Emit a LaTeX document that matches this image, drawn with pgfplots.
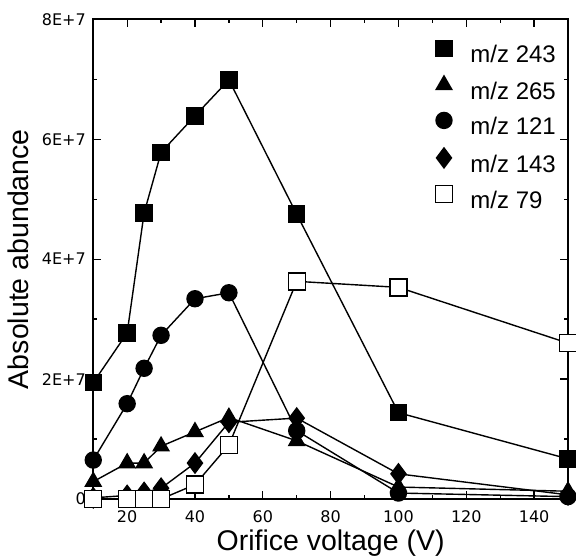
\documentclass[border=0pt]{standalone}
\usepackage{fontspec}
\setmainfont{Liberation Sans}
\newfontfamily\tickfont{DejaVu Sans}
\usepackage{pgfplots}
\pgfplotsset{compat=1.18}
\usepackage{pgfplotstable}

\pgfplotstableread{
x    a     b     c     d     e
10   1.94  0.29  0.65  0.02  0.00
20   2.77  0.60  1.59  0.06  0.00
25   4.77  0.60  2.18  0.11  0.00
30   5.78  0.88  2.73  0.18  0.00
40   6.39  1.12  3.34  0.60  0.24
50   6.99  1.36  3.44  1.28  0.90
70   4.75  0.97  1.14  1.35  3.63
100  1.44  0.20  0.10  0.42  3.53
150  0.67  0.13  0.04  0.07  2.60
}\data

\begin{document}
\begin{tikzpicture}
\begin{axis}[
    name=ax,
    scale only axis,
    width=475pt, height=480pt,
    xmin=10, xmax=150,
    ymin=0, ymax=8,
    xtick={20,40,...,140},
    ytick={0,2,4,6,8},
    yticklabels={0,2E+7,4E+7,6E+7,8E+7},
    minor x tick num=1,
    minor y tick num=1,
    major tick length=8pt,
    minor tick length=4pt,
    tick style={line width=1.3pt, black},
    axis line style={line width=1.6pt},
    /pgf/number format/assume math mode=true,
    tick label style={font=\tickfont\fontsize{16}{19}\selectfont},
    xticklabel style={yshift=-8.5pt},
    yticklabel style={xshift=-4pt},
    xlabel={Orifice voltage (V)},
    ylabel={Absolute abundance},
    label style={font=\fontsize{28.5}{32}\selectfont},
    xlabel style={at={(axis description cs:0.5,0)}, anchor=north, inner sep=0pt, yshift=-31pt},
    ylabel style={at={(axis description cs:0,0.5)}, anchor=center, yshift=75pt},
    clip=false,
    legend style={at={(rel axis cs:1,1)}, anchor=north east, xshift=-12pt, yshift=-21pt,
        draw=none, fill=none, inner sep=0pt, font=\fontsize{24}{28}\selectfont,
        nodes={inner sep=0pt, text height=17pt, text depth=5pt},
        row sep=8pt, column sep=18pt},
    legend cell align=left,
    legend image code/.code={\draw[#1] plot coordinates {(0pt,8.5pt)};},
    every axis plot/.append style={line width=1.4pt, black},
]
\addplot[mark=square*, mark size=8pt, mark options={solid, fill=black}] table[x=x, y=a] {\data};
\addplot[mark=triangle*, mark size=9pt, mark options={solid, fill=black}] table[x=x, y=b] {\data};
\addplot[mark=*, mark size=8pt, mark options={solid, fill=black}] table[x=x, y=c] {\data};
\addplot[mark=diamond*, mark size=10pt, mark options={solid, fill=black}] table[x=x, y=d] {\data};
\addplot[mark=square*, mark size=8.5pt, mark options={solid, fill=white, draw=black}] table[x=x, y=e] {\data};
\legend{m/z 243, m/z 265, m/z 121, m/z 143, m/z 79}
\end{axis}
\pgfresetboundingbox
\path[use as bounding box] (-93.3pt,-59.7pt) rectangle (483pt,499.3pt);
\end{tikzpicture}
\end{document}
